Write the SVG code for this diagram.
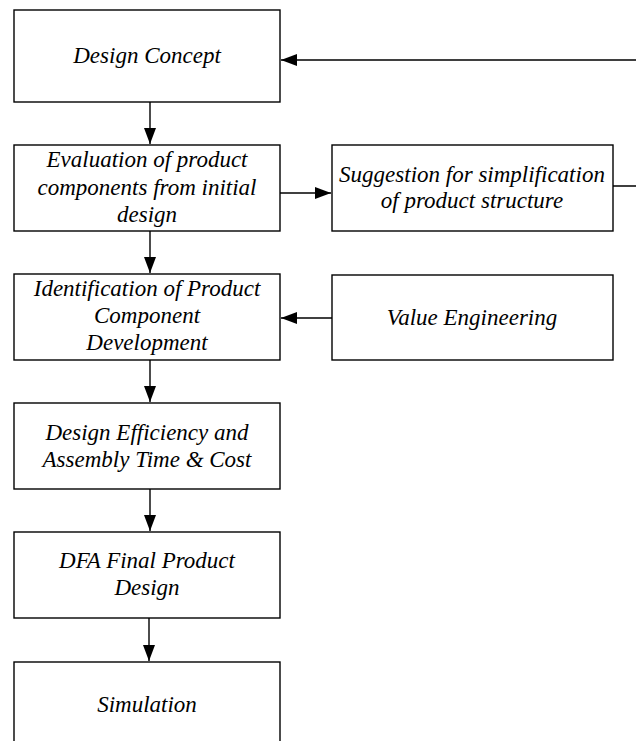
<svg xmlns="http://www.w3.org/2000/svg" width="636" height="741" viewBox="0 0 636 741">
<style>
.box{fill:#fff;stroke:#000;stroke-width:1.4}
.t{font-family:"Liberation Serif","Times New Roman",serif;font-style:italic;font-size:23px;text-anchor:middle;fill:#000}
.c{fill:none;stroke:#000;stroke-width:1.4}
</style>
<defs>
<marker id="ah" markerWidth="16" markerHeight="12" refX="16" refY="6" orient="auto" markerUnits="userSpaceOnUse">
<path d="M0,0 L16,6 L0,12 Z" fill="#000"/>
</marker>
</defs>
<rect width="636" height="741" fill="#fff"/>
<g id="connectors">
<path class="c" d="M150,102 V144" marker-end="url(#ah)"/>
<path class="c" d="M150,231 V273" marker-end="url(#ah)"/>
<path class="c" d="M150,360 V402" marker-end="url(#ah)"/>
<path class="c" d="M150,489 V531" marker-end="url(#ah)"/>
<path class="c" d="M149,618 V661" marker-end="url(#ah)"/>
<path class="c" d="M280,193 H331" marker-end="url(#ah)"/>
<path class="c" d="M332,318 H281" marker-end="url(#ah)"/>
<path class="c" d="M613,186 H645 V60 H281" marker-end="url(#ah)"/>
</g>
<g id="design-concept">
<rect class="box" x="14" y="10" width="266" height="92"/>
<text class="t" x="147" y="63">Design Concept</text>
</g>
<g id="evaluation">
<rect class="box" x="14" y="145" width="266" height="86"/>
<text class="t" x="147" y="167">Evaluation of product</text>
<text class="t" x="147" y="195">components from initial</text>
<text class="t" x="147" y="222">design</text>
</g>
<g id="suggestion">
<rect class="box" x="332" y="145" width="281" height="86"/>
<text class="t" x="472" y="182">Suggestion for simplification</text>
<text class="t" x="472" y="208">of product structure</text>
</g>
<g id="identification">
<rect class="box" x="14" y="274" width="266" height="86"/>
<text class="t" x="147" y="296">Identification of Product</text>
<text class="t" x="147" y="323">Component</text>
<text class="t" x="147" y="350">Development</text>
</g>
<g id="value-engineering">
<rect class="box" x="332" y="275" width="281" height="85"/>
<text class="t" x="472" y="325">Value Engineering</text>
</g>
<g id="design-efficiency">
<rect class="box" x="14" y="403" width="266" height="86"/>
<text class="t" x="147" y="440">Design Efficiency and</text>
<text class="t" x="147" y="467">Assembly Time &amp; Cost</text>
</g>
<g id="dfa-final">
<rect class="box" x="14" y="532" width="266" height="86"/>
<text class="t" x="147" y="568">DFA Final Product</text>
<text class="t" x="147" y="595">Design</text>
</g>
<g id="simulation">
<rect class="box" x="14" y="662" width="266" height="90"/>
<text class="t" x="147" y="712">Simulation</text>
</g>
</svg>
